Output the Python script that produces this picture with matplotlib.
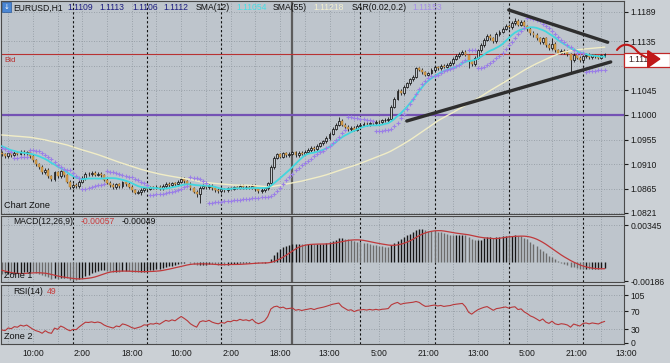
import numpy as np
import pandas as pd
import matplotlib
matplotlib.use('Agg')
import matplotlib.pyplot as plt
from matplotlib.patches import Rectangle, FancyArrowPatch
from matplotlib.path import Path
import matplotlib.transforms as mtransforms

# ---------------- data ----------------
# hourly closes before the visible window (needed for indicator warm-up)
pre_closes = [1.0952, 1.0957, 1.0950, 1.0955, 1.0960, 1.0953, 1.0949, 1.0956, 1.0961, 1.0954,
              1.0950, 1.0957, 1.0962, 1.0955, 1.0951, 1.0958, 1.0963, 1.0956, 1.0952, 1.0959,
              1.0964, 1.0957, 1.0953, 1.0960, 1.0962,
              1.0966, 1.0963, 1.0970, 1.0974, 1.0971, 1.0978, 1.0982, 1.0979, 1.0985, 1.0989,
              1.0986, 1.0992, 1.0996, 1.0994,
              1.0990, 1.0985, 1.0988, 1.0981, 1.0976, 1.0979, 1.0972, 1.0967, 1.0970, 1.0962,
              1.0957, 1.0960, 1.0953, 1.0948, 1.0951, 1.0944, 1.0939, 1.0941, 1.0935, 1.0929,
              1.0931]

# visible hourly closes (EURUSD H1)
closes = [1.0928, 1.0925, 1.0930, 1.0927, 1.0931, 1.0929, 1.0933, 1.0930, 1.0932, 1.0925,
          1.0917, 1.0910, 1.0905, 1.0895, 1.0900, 1.0888, 1.0883, 1.0895, 1.0888, 1.0897,
          1.0890, 1.0878, 1.0868, 1.0872, 1.0870, 1.0878, 1.0885, 1.0893, 1.0892, 1.0894,
          1.0891, 1.0893, 1.0890, 1.0882, 1.0876, 1.0872, 1.0868, 1.0873, 1.0870, 1.0877,
          1.0874, 1.0869, 1.0862, 1.0858, 1.0860, 1.0862, 1.0866, 1.0865, 1.0868, 1.0867,
          1.0869, 1.0866, 1.0870, 1.0874, 1.0872, 1.0875, 1.0873, 1.0878, 1.0883, 1.0879,
          1.0874, 1.0866, 1.0860, 1.0855, 1.0867, 1.0870, 1.0868, 1.0871, 1.0866, 1.0863,
          1.0861, 1.0864, 1.0862, 1.0866, 1.0865, 1.0868, 1.0867, 1.0870, 1.0868, 1.0869,
          1.0867, 1.0870, 1.0864, 1.0861, 1.0863, 1.0866, 1.0875, 1.0905, 1.0922, 1.0928,
          1.0924, 1.0930, 1.0926, 1.0929, 1.0932, 1.0927, 1.0931, 1.0929, 1.0933, 1.0936,
          1.0940, 1.0938, 1.0944, 1.0948, 1.0952, 1.0958, 1.0966, 1.0975, 1.0982, 1.0989,
          1.0982, 1.0978, 1.0974, 1.0977, 1.0973, 1.0980, 1.0982, 1.0984, 1.0983, 1.0986,
          1.0985, 1.0988, 1.0987, 1.0990, 1.0991, 1.0993, 1.1015, 1.1030, 1.1044, 1.1040,
          1.1052, 1.1058, 1.1065, 1.1070, 1.1085, 1.1083, 1.1078, 1.1074, 1.1076, 1.1082,
          1.1087, 1.1085, 1.1090, 1.1088, 1.1092, 1.1095, 1.1103, 1.1108, 1.1112, 1.1116,
          1.1110, 1.1098, 1.1093, 1.1105, 1.1118, 1.1128, 1.1138, 1.1145, 1.1140, 1.1135,
          1.1148, 1.1152, 1.1158, 1.1163, 1.1160, 1.1168, 1.1172, 1.1165, 1.1170, 1.1162,
          1.1157, 1.1150, 1.1146, 1.1140, 1.1133, 1.1140, 1.1128, 1.1122, 1.1130, 1.1118,
          1.1114, 1.1117, 1.1115, 1.1111, 1.1100, 1.1110, 1.1105, 1.1100, 1.1108, 1.1110,
          1.1106, 1.1109, 1.1107, 1.1105, 1.1109, 1.1112]

wick = 0.0003  # typical wick length
wick_exceptions = {45: (1.0866, 1.0854), 63: (1.0862, 1.0850), 64: (1.0870, 1.0839),
                   109: (1.0996, 1.0980), 151: (1.1112, 1.1085), 166: (1.1178, 1.1164),
                   178: (1.1140, 1.1119), 184: (1.1113, 1.1079), 195: (1.1113, 1.1106)}

time_labels = ['10:00', '2:00', '18:00', '10:00', '2:00', '18:00', '13:00',
               '5:00', '21:00', '13:00', '5:00', '21:00', '13:00']
label_bars = [10 + 16 * k for k in range(len(time_labels))]
grid_bars = [2 + 8 * k for k in range(25)]
day_breaks = [23, 47, 71, 116, 140, 164, 188]
week_break = 94

price_ticks = [1.1189, 1.1135, 1.1090, 1.1045, 1.1000, 1.0955, 1.0910, 1.0865, 1.0821]
macd_ticks = [0.00345, -0.00186]
rsi_ticks = [105, 70, 30, 0]
bid_price = 1.1112
level_price = 1.1000
trend_upper = [(164, 1.1192), (196, 1.1133)]
trend_lower = [(131, 1.0989), (197, 1.1097)]

# ---------------- indicators ----------------
allc = np.array(pre_closes + closes)
npre = len(pre_closes)
s = pd.Series(allc)
allo = np.r_[allc[0], allc[:-1]]
allh = np.maximum(allo, allc) + wick
alll = np.minimum(allo, allc) - wick
for k, (hh, ll) in wick_exceptions.items():
    allh[npre + k] = hh
    alll[npre + k] = ll

sma12 = s.rolling(12).mean().values[npre:]
sma55 = s.rolling(55).mean().values[npre:]
macd_all = s.ewm(span=12, adjust=False).mean() - s.ewm(span=26, adjust=False).mean()
signal_all = macd_all.rolling(9).mean()
macd = macd_all.values[npre:]
macd_prev = macd_all.values[npre - 1:-1]
signal = signal_all.values[npre:]
d = s.diff()
g = d.clip(lower=0).ewm(alpha=1 / 14, adjust=False).mean()
l = (-d.clip(upper=0)).ewm(alpha=1 / 14, adjust=False).mean()
rsi = (100 - 100 / (1 + g / l)).values[npre:]


def psar(high, low, step=0.02, maxstep=0.2):
    n = len(high)
    out = np.zeros(n)
    up = False
    af = step
    ep = low[0]
    out[0] = high[0]
    for i in range(1, n):
        prev = out[i - 1]
        v = prev + af * (ep - prev)
        if up:
            v = min(v, low[i - 1], low[max(i - 2, 0)])
            if low[i] < v:
                up, v, ep, af = False, ep, low[i], step
            elif high[i] > ep:
                ep = high[i]
                af = min(af + step, maxstep)
        else:
            v = max(v, high[i - 1], high[max(i - 2, 0)])
            if high[i] > v:
                up, v, ep, af = True, ep, high[i], step
            elif low[i] < ep:
                ep = low[i]
                af = min(af + step, maxstep)
        out[i] = v
    return out


sar = psar(allh, alll)[npre:]
o = allo[npre:]
c = allc[npre:]
hi = allh[npre:]
lo = alll[npre:]
x = np.arange(len(c))

# ---------------- figure ----------------
W, H = 670, 363
plt.rcParams['font.family'] = ['Liberation Sans', 'DejaVu Sans']
fig = plt.figure(figsize=(W / 100, H / 100), dpi=100)
fig.patch.set_facecolor('#cbd0d5')

BG = '#bec5cc'
GRID = '#8e969e'
SPINE = '#4a4a4a'
XL = (-0.32, 201.3)
FS = 6.2


def px(xp, yp):
    return xp / W, 1 - yp / H


def panel(top, bottom):
    ax = fig.add_axes([1 / W, 1 - bottom / H, 623 / W, (bottom - top) / H])
    ax.set_facecolor(BG)
    ax.set_xlim(*XL)
    ax.set_xticks([])
    for sp in ax.spines.values():
        sp.set_color(SPINE)
        sp.set_linewidth(0.8)
    ax.yaxis.tick_right()
    ax.tick_params(axis='y', length=3, width=0.8, pad=1.5, labelsize=FS,
                   colors='#1a1a1a')
    for gb in grid_bars:
        ax.axvline(gb, color=GRID, lw=0.6, ls=(0, (1, 2)), zorder=0.5)
    for db in day_breaks:
        ax.axvline(db, color='#111111', lw=0.8, ls=(0, (2, 2)), zorder=0.6)
    ax.axvline(week_break, color='#5c5c5c', lw=1.6, zorder=0.6)
    return ax


# main chart
ax = panel(1, 214)
ax.set_ylim(1.08190, 1.12084)
ax.set_yticks(price_ticks)
# the 1.1090 label is hidden behind the bid price box
ax.set_yticklabels(['' if abs(v - 1.1090) < 1e-9 else f'{v:.4f}' for v in price_ticks])
for pt in price_ticks:
    ax.axhline(pt, color=GRID, lw=0.6, ls=(0, (1, 2)), zorder=0.5)
ax.axhline(level_price, color='#7452b4', lw=1.6, zorder=1)
ax.axhline(bid_price, color='#b83232', lw=0.8, zorder=1)

bull = c >= o
ax.vlines(x, lo, hi, color='#151515', lw=0.6, zorder=2)
body_h = np.maximum(np.abs(c - o), 0.00006)
body_b = np.minimum(o, c)
ax.bar(x[bull], body_h[bull], bottom=body_b[bull], width=0.62,
       color='#c4c9ce', edgecolor='#111111', lw=0.55, zorder=3)
ax.bar(x[~bull], body_h[~bull], bottom=body_b[~bull], width=0.62,
       color='#d9a04a', edgecolor='#a87a35', lw=0.35, zorder=3)

ax.plot(x, sma55, color='#f1edc6', lw=1.0, zorder=4)
ax.plot(x, sma12, color='#42d6de', lw=1.3, zorder=4)
ax.plot(x, sar, ls='none', marker='+', ms=3, mew=0.8, color='#9b80e6', zorder=4)
for tl in (trend_upper, trend_lower):
    ax.plot([tl[0][0], tl[1][0]], [tl[0][1], tl[1][1]], color='#2e2e2e',
            lw=2.4, solid_capstyle='round', zorder=5)

ax.text(3 / 623, 1 - (205 - 1) / 213, 'Chart Zone', transform=ax.transAxes,
        fontsize=6.6, color='#111111', va='center', ha='left')
ax.text(3 / 623, 1 - (60 - 1) / 213, 'Bid', transform=ax.transAxes,
        fontsize=5.8, color='#b83232', va='center', ha='left')

# MACD
axm = panel(216, 282)
axm.set_ylim(-0.00193, 0.00434)
axm.set_yticks(macd_ticks)
axm.set_yticklabels(['0.00345', '-0.00186'])
axm.axhline(macd_ticks[0], color=GRID, lw=0.6, ls=(0, (1, 2)), zorder=0.5)
hcol = np.where(macd >= macd_prev, '#161616', '#6c6c6c')
axm.vlines(x, 0, macd, colors=hcol, lw=1.0, zorder=2)
axm.plot(x, signal, color='#c0393b', lw=0.9, zorder=3)
axm.text(3 / 623, 0.1, 'Zone 1', transform=axm.transAxes, fontsize=6.6,
         color='#111111', va='center', ha='left')

# RSI
axr = panel(285, 344)
axr.set_ylim(-2.2, 126.9)
axr.set_yticks(rsi_ticks)
axr.set_yticklabels([str(v) for v in rsi_ticks])
for rt in rsi_ticks[:-1]:
    axr.axhline(rt, color=GRID, lw=0.6, ls=(0, (1, 2)), zorder=0.5)
axr.plot(x, rsi, color='#b8383a', lw=0.8, zorder=3)
axr.text(3 / 623, 0.13, 'Zone 2', transform=axr.transAxes, fontsize=6.6,
         color='#111111', va='center', ha='left')
trans = mtransforms.blended_transform_factory(axr.transData, axr.transAxes)
for lb, tx in zip(label_bars, time_labels):
    axr.text(lb, -9.5 / 59, tx, transform=trans, ha='center', va='center',
             fontsize=FS, color='#1a1a1a', clip_on=False)

# ---------------- header texts ----------------
def ftext(xp, yp, s_, col, fs=FS):
    fig.text(*px(xp, yp), s_, color=col, fontsize=fs, va='center', ha='left')


fig.add_artist(Rectangle(px(2, 12), 9 / W, 10 / H, transform=fig.transFigure,
                         facecolor='#4a86d4', edgecolor='#2a5a9a', lw=0.5))
fig.text(*px(6.5, 7), '↓', color='white', fontsize=5, ha='center', va='center',
         family='DejaVu Sans')
hy = 8
ftext(13, hy, 'EURUSD,H1', '#111111')
for xp, v in zip([67, 99, 132, 163], ['1.1109', '1.1113', '1.1106', '1.1112']):
    ftext(xp, hy, v, '#1d1d80')
ftext(196, hy, 'SMA(12)', '#111111')
ftext(236, hy, '1.11054', '#45dfe6')
ftext(273, hy, 'SMA(55)', '#111111')
ftext(313, hy, '1.11218', '#f3efcc')
ftext(352, hy, 'SAR(0.02,0.2)', '#111111')
ftext(412, hy, '1.11153', '#a58ee8')

ftext(13, 222, 'MACD(12,26,9)', '#111111')
ftext(81, 222, '-0.00057', '#c83c3c')
ftext(122, 222, '-0.00049', '#111111')
ftext(13, 291, 'RSI(14)', '#111111')
ftext(47, 291, '49', '#c83c3c')

# bid price box and arrow
fig.add_artist(Rectangle(px(624, 66.5), 46 / W, 13 / H, transform=fig.transFigure,
                         facecolor='white', edgecolor='#c02828', lw=0.9, zorder=5))
fig.text(*px(628, 60), f'{bid_price:.4f}', color='#3a2020', fontsize=FS,
         va='center', ha='left', zorder=6)
pts = [(617, 50), (622, 43), (630, 43), (636, 50), (642, 57), (650, 59), (661, 59)]
verts = [px(a, b) for a, b in pts]
codes = [Path.MOVETO] + [Path.CURVE4] * 6
arrow = FancyArrowPatch(path=Path(verts, codes), arrowstyle='-|>,head_length=5,head_width=3.5',
                        color='#c01818', lw=1.5, transform=fig.transFigure,
                        mutation_scale=1.6, zorder=7)
fig.add_artist(arrow)

fig.savefig('out.png', dpi=100, facecolor=fig.get_facecolor())
